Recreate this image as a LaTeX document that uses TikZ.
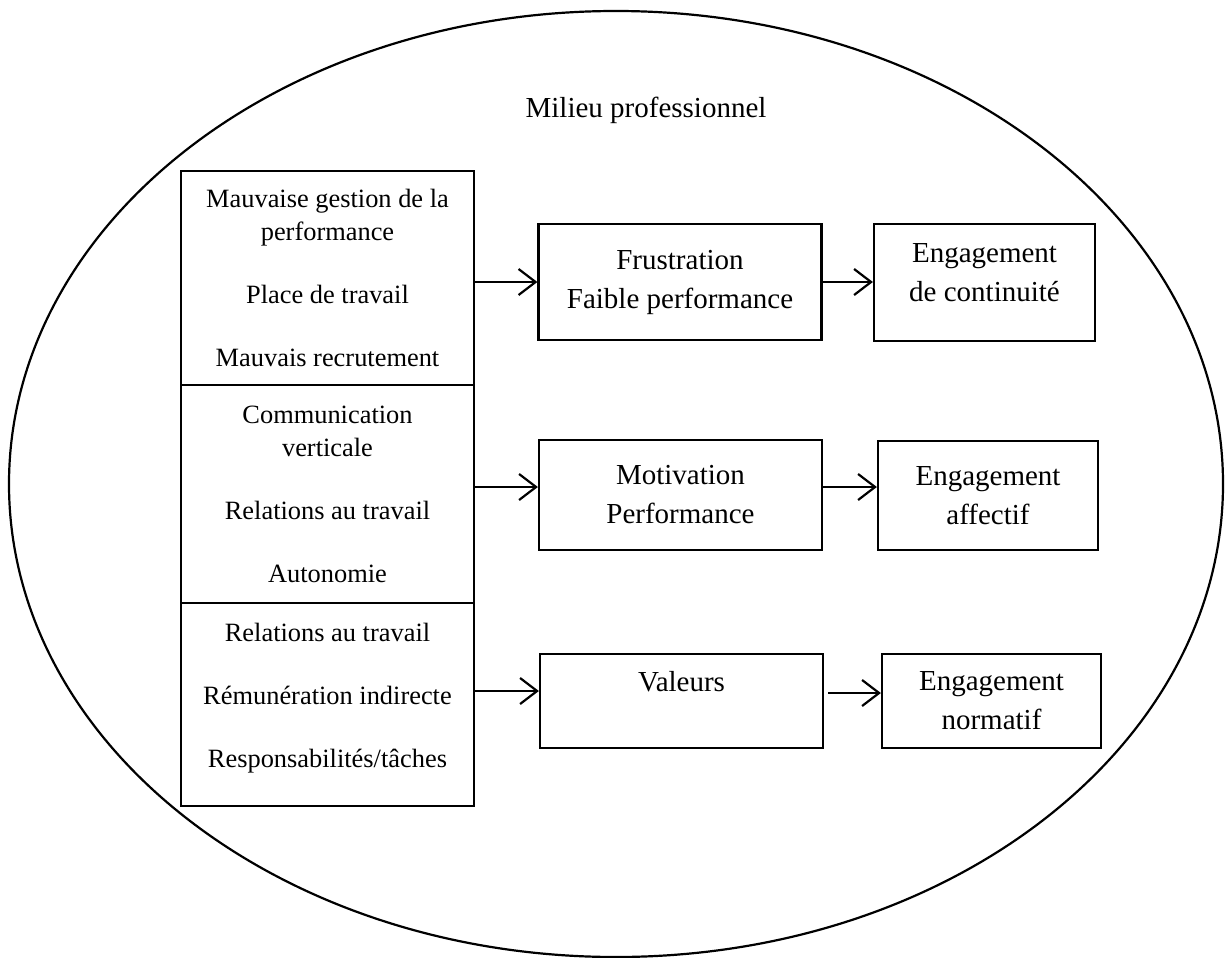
\documentclass[tikz,border=0pt]{standalone}
\usepackage{fontspec}
\setmainfont{Liberation Serif}
\usetikzlibrary{positioning,arrows.meta}

\tikzset{
	factbox/.style={draw, rectangle, outer sep=0pt, inner sep=0pt, minimum width=146.5pt, align=center, font=\fontsize{13.2}{16.5}\selectfont},
	effectbox/.style={draw, rectangle, inner sep=0pt, align=center, font=\fontsize{14.5}{19.5}\selectfont},
	link/.style={-{Straight Barb[length=8.5pt,width=13pt]}}
}

\begin{document}
\begin{tikzpicture}[x=0.5pt, y=-0.5pt, line width=1.1pt]
		
		\useasboundingbox (0,0) rectangle (1226,958);
		
		%Surrounding ellipse
		\draw (616,484) ellipse [x radius=303.5pt, y radius=236.5pt];
		\node[font=\fontsize{14.5}{17}\selectfont] (milieu) at (646,110) {Milieu professionnel};
		
		%Factors on the left
		\node[factbox, minimum height=107pt] (top) at (327.5,278) {Mauvaise gestion de la\\performance\\[15pt]Place de travail\\[15pt]Mauvais recrutement};
		\node[factbox, minimum height=109pt, below=0pt of top] (mid) {Communication\\verticale\\[15pt]Relations au travail\\[15pt]Autonomie};
		\node[factbox, minimum height=101.5pt, below=0pt of mid] (bot) {Relations au travail\\[15pt]R\'emun\'eration indirecte\\[15pt]Responsabilit\'es/t\^aches\\[-7pt]\mbox{}};
		
		%Effects
		\node[effectbox, minimum width=141.5pt, minimum height=58pt] (frus) at (680,282) {Frustration\\Faible performance};
		\node[effectbox, minimum width=141.5pt, minimum height=55pt] (motiv) at (680.5,495) {Motivation\\Performance};
		\node[effectbox, minimum width=141.5pt, minimum height=47pt] (val) at (681.5,701) {Valeurs\\ \mbox{}};
		
		%Kinds of engagement
		\node[effectbox, minimum width=110.5pt, minimum height=58.5pt] (cont) at (984.5,282.5) {Engagement\\de continuit\'e\\[-9.5pt]\mbox{}};
		\node[effectbox, minimum width=110pt, minimum height=54.5pt] (affect) at (988,495.5) {Engagement\\affectif};
		\node[effectbox, minimum width=109.5pt, minimum height=47pt] (norm) at (991.5,701) {Engagement\\normatif};
		
		%Drawing arrows
		\draw[link] (frus.west -| top.east) -- (frus.west);
		\draw[link] (frus.east) -- (frus.east -| cont.west);
		\draw[link] ([yshift=4pt]motiv.west -| mid.east) -- ([yshift=4pt]motiv.west);
		\draw[link] ([yshift=4pt]motiv.east) -- ([yshift=4pt]motiv.east -| affect.west);
		\draw[link] ([yshift=5pt]val.west -| bot.east) -- ([yshift=5pt]val.west);
		\draw[link, shorten <=2pt] ([yshift=4pt]val.east) -- ([yshift=4pt]val.east -| norm.west);
	\end{tikzpicture}
\end{document}
